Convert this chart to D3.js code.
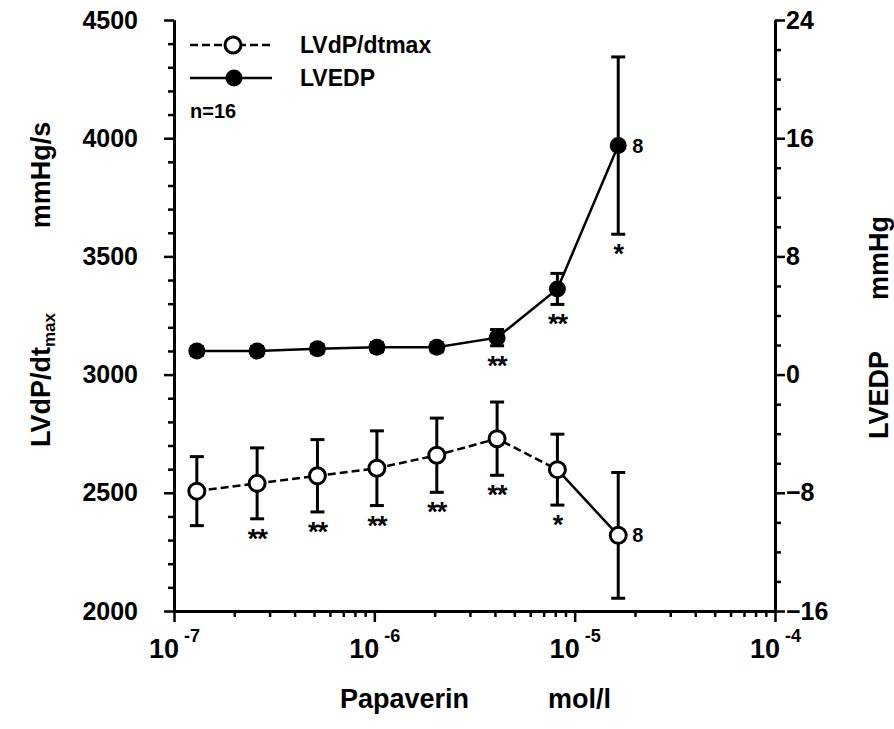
<!DOCTYPE html>
<html><head><meta charset="utf-8">
<script src="https://cdn.jsdelivr.net/npm/d3@7"></script>
<style>
body{margin:0;background:#fff}
svg{display:block}
text{font-family:"Liberation Sans",Arial,Helvetica,sans-serif;font-weight:bold;fill:#000}
</style>
</head><body><svg id="c" width="894" height="729"></svg>
<script>
// ---- data ----
const concentrations = [1.3e-7, 2.6e-7, 5.2e-7, 1.03e-6, 2.05e-6, 4.1e-6, 8.2e-6, 1.65e-5];
const lvdpMean  = [2507, 2540, 2572, 2604, 2659, 2729, 2598, 2320];
const lvdpErr   = [146, 150, 153, 158, 157, 155, 150, 266];
const lvdpStars = ["", "**", "**", "**", "**", "**", "*", ""];
const lvedpMean  = [1.6, 1.6, 1.75, 1.85, 1.85, 2.5, 5.8, 15.5];
const lvedpErr   = [0.3, 0.3, 0.3, 0.3, 0.3, 0.55, 1.05, 6.0];
const lvedpStars = ["", "", "", "", "", "**", "**", "*"];
const nLabels    = ["", "", "", "", "", "", "", "8"];
const xTickExps  = [-7, -6, -5, -4];
const leftTicks  = [2000, 2500, 3000, 3500, 4000, 4500];
const rightTicks = [-16, -8, 0, 8, 16, 24];
const legendLabels = ["LVdP/dtmax", "LVEDP"];

// ---- layout ----
const X0 = 174, X1 = 775, Y0 = 611, Y1 = 20;
const svg = d3.select("#c");
const x  = d3.scaleLog().domain([1e-7, 1e-4]).range([X0, X1]);
const yL = d3.scaleLinear().domain([2000, 4500]).range([Y0, Y1]);
const yR = d3.scaleLinear().domain([-16, 24]).range([Y0, Y1]);

function styleAxis(g){
  g.select(".domain").attr("stroke","#000").attr("stroke-width",3);
  g.selectAll(".tick line").attr("stroke","#000").attr("stroke-width",2.5);
  g.selectAll(".tick text").attr("fill","#000");
}

// left axis minor + major
const leftMinor = d3.range(2000, 4501, 100).filter(v => v % 500 !== 0);
svg.append("g").attr("transform",`translate(${X0},0)`)
  .call(d3.axisLeft(yL).tickValues(leftMinor).tickSize(6).tickSizeOuter(0).tickFormat(""))
  .call(styleAxis);
svg.append("g").attr("transform",`translate(${X0},0)`)
  .call(d3.axisLeft(yL).tickValues(leftTicks).tickSize(10).tickSizeOuter(0).tickPadding(26).tickFormat(d3.format("d")))
  .call(styleAxis)
  .call(g => g.selectAll(".tick text").attr("font-size",25).attr("font-family",'"Liberation Sans",Arial,sans-serif').attr("font-weight","bold"));

// right axis
const rightMinor = d3.range(-16, 25, 2).filter(v => v % 8 !== 0);
svg.append("g").attr("transform",`translate(${X1},0)`)
  .call(d3.axisRight(yR).tickValues(rightMinor).tickSize(6).tickSizeOuter(0).tickFormat(""))
  .call(styleAxis);
svg.append("g").attr("transform",`translate(${X1},0)`)
  .call(d3.axisRight(yR).tickValues(rightTicks).tickSize(10).tickSizeOuter(0).tickPadding(1).tickFormat(d3.format("d")))
  .call(styleAxis)
  .call(g => g.selectAll(".tick text").attr("font-size",25).attr("font-family",'"Liberation Sans",Arial,sans-serif').attr("font-weight","bold"));

// x axis
const xMinor = [];
xTickExps.slice(0,-1).forEach(e => { for (let m = 2; m <= 9; m++) xMinor.push(m * Math.pow(10, e)); });
svg.append("g").attr("transform",`translate(0,${Y0})`)
  .call(d3.axisBottom(x).tickValues(xMinor).tickSize(6).tickSizeOuter(0).tickFormat(""))
  .call(styleAxis);
svg.append("g").attr("transform",`translate(0,${Y0})`)
  .call(d3.axisBottom(x).tickValues(xTickExps.map(e => Math.pow(10, e))).tickSize(11).tickSizeOuter(0).tickFormat(""))
  .call(styleAxis);
xTickExps.forEach(e => {
  const px = x(Math.pow(10, e));
  svg.append("text").attr("x", px + 5).attr("y", 658).attr("text-anchor","end")
    .attr("font-size",27).text("10");
  svg.append("text").attr("x", px + 10).attr("y", 642).attr("text-anchor","start")
    .attr("font-size",18).text(String(e));
});

// axis titles
const lt = svg.append("text").attr("transform","translate(50,380) rotate(-90)")
  .attr("text-anchor","middle").attr("font-size",27);
lt.append("tspan").text("LVdP/dt");
lt.append("tspan").attr("font-size",17).attr("dy",5).text("max");
svg.append("text").attr("transform","translate(50,175) rotate(-90)")
  .attr("text-anchor","middle").attr("font-size",27).text("mmHg/s");
svg.append("text").attr("transform","translate(888,395) rotate(-90)")
  .attr("text-anchor","middle").attr("font-size",27).text("LVEDP");
svg.append("text").attr("transform","translate(888,258) rotate(-90)")
  .attr("text-anchor","middle").attr("font-size",27).text("mmHg");
svg.append("text").attr("x",340).attr("y",708).attr("font-size",27).text("Papaverin");
svg.append("text").attr("x",548).attr("y",708).attr("font-size",27).text("mol/l");

// ---- data marks ----
const lvdp  = concentrations.map((c,i) => ({c, m: lvdpMean[i],  e: lvdpErr[i],  s: lvdpStars[i],  n: nLabels[i]}));
const lvedp = concentrations.map((c,i) => ({c, m: lvedpMean[i], e: lvedpErr[i], s: lvedpStars[i], n: nLabels[i]}));

const line = yS => d3.line().x(d => x(d.c)).y(d => yS(d.m));
// LVdP: dashed between n=16 points, solid to the n=8 point
svg.append("path").datum(lvdp.slice(0,7)).attr("d", line(yL))
  .attr("fill","none").attr("stroke","#000").attr("stroke-width",2.5).attr("stroke-dasharray","8,4");
svg.append("path").datum(lvdp.slice(6)).attr("d", line(yL))
  .attr("fill","none").attr("stroke","#000").attr("stroke-width",2.5);
svg.append("path").datum(lvedp).attr("d", line(yR))
  .attr("fill","none").attr("stroke","#000").attr("stroke-width",2.5);

function errorBars(data, yS){
  const g = svg.append("g").attr("stroke","#000").attr("stroke-width",3);
  data.forEach(d => {
    const cx = x(d.c), t = yS(d.m + d.e), b = yS(d.m - d.e);
    g.append("line").attr("x1",cx).attr("x2",cx).attr("y1",t).attr("y2",b);
    g.append("line").attr("x1",cx-7).attr("x2",cx+7).attr("y1",t).attr("y2",t);
    g.append("line").attr("x1",cx-7).attr("x2",cx+7).attr("y1",b).attr("y2",b);
  });
}
errorBars(lvdp, yL);
errorBars(lvedp, yR);

svg.append("g").selectAll("circle").data(lvdp).join("circle")
  .attr("cx", d => x(d.c)).attr("cy", d => yL(d.m)).attr("r", 8)
  .attr("fill","#fff").attr("stroke","#000").attr("stroke-width",3);
svg.append("g").selectAll("circle").data(lvedp).join("circle")
  .attr("cx", d => x(d.c)).attr("cy", d => yR(d.m)).attr("r", 8.5)
  .attr("fill","#000");

function stars(data, yS, markerR){
  data.forEach(d => {
    if (!d.s) return;
    const b = Math.max(yS(d.m - d.e), yS(d.m) + markerR);
    svg.append("text").attr("x", x(d.c)).attr("y", b + 29).attr("text-anchor","middle")
      .attr("font-size",27).attr("letter-spacing",-1).text(d.s);
  });
}
stars(lvdp, yL, 8);
stars(lvedp, yR, 8.5);

function nText(data, yS){
  data.forEach(d => {
    if (!d.n) return;
    svg.append("text").attr("x", x(d.c) + 14).attr("y", yS(d.m) + 7)
      .attr("font-size",20).text(d.n);
  });
}
nText(lvdp, yL);
nText(lvedp, yR);

// ---- legend ----
const lg = svg.append("g");
lg.append("line").attr("x1",190).attr("x2",272).attr("y1",45).attr("y2",45)
  .attr("stroke","#000").attr("stroke-width",2.5).attr("stroke-dasharray","8,4");
lg.append("circle").attr("cx",233).attr("cy",45).attr("r",8)
  .attr("fill","#fff").attr("stroke","#000").attr("stroke-width",3);
lg.append("text").attr("x",300).attr("y",53).attr("font-size",23).text(legendLabels[0]);
lg.append("line").attr("x1",190).attr("x2",272).attr("y1",78).attr("y2",78)
  .attr("stroke","#000").attr("stroke-width",2.5);
lg.append("circle").attr("cx",234).attr("cy",78).attr("r",8.5).attr("fill","#000");
lg.append("text").attr("x",300).attr("y",86).attr("font-size",23).text(legendLabels[1]);
lg.append("text").attr("x",190).attr("y",118).attr("font-size",20).text("n=16");
</script>
</body></html>
